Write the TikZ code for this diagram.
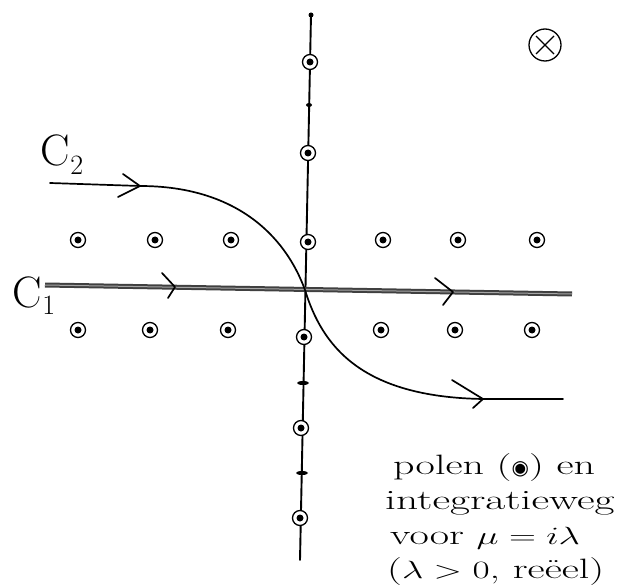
\documentclass[tikz,border=0pt]{standalone}
\usepackage{fontspec}
\newfontfamily\symfont{DejaVu Sans}
\usepackage{graphicx}
\usetikzlibrary{shapes.geometric,calc}
\begin{document}
\begin{tikzpicture}[x=1pt,y=-1pt,
  pen/.style={line width=1.7pt,line cap=round,line join=round},
  pole/.style={circle,draw,line width=1.3pt,minimum size=15pt,inner sep=0pt,
    path picture={\fill[black] (path picture bounding box.center) circle (3.5pt);}},
  tick/.style={ellipse,fill,minimum width=12pt,minimum height=4pt,inner sep=0pt},
  lbl/.style={inner sep=0pt,anchor=west,font=\fontsize{28}{28}\selectfont},
  clab/.style={inner sep=0pt,font=\fontsize{44}{44}\selectfont}]
\useasboundingbox (0,0) rectangle (632,588);
% axis
\coordinate (top) at (311,15);
\coordinate (bot) at (300,560);
\draw[pen,line width=1.9pt] (top) -- (bot);
\fill (top) circle (2.5pt);
\node[tick,minimum width=6pt] (t1) at (309,105) {};
\node[tick] (t2) at (303,383) {};
\node[tick] (t3) at (302,473) {};
% poles on axis
\foreach \n/\x/\y in {a1/310/62,a2/308/153,a3/308/242,a4/304/337,a5/301/428,a6/300/518}
  \node[pole,fill=white] (\n) at (\x,\y) {};
% upper row
\foreach \n/\x in {u1/78,u2/155,u3/231,u5/383,u6/458,u7/537}
  \node[pole] (\n) at (\x,240) {};
% lower row
\foreach \n/\x in {l1/78,l2/150,l3/228,l5/381,l6/455,l7/532}
  \node[pole] (\n) at (\x,330) {};
% C1
\coordinate (c1a) at (45,285);
\coordinate (c1b) at (572,294);
\draw[line width=5pt,black!75] (c1a) -- (c1b);
\draw[line width=1pt,black!35] (c1a) -- (c1b);
\coordinate (c1m1) at (175,287);
\coordinate (c1m2) at (453,292);
\draw[pen] ($(c1m1)+(-13,-14)$) -- (c1m1) -- ($(c1m1)+(-7,11)$);
\draw[pen] ($(c1m2)+(-18,-14)$) -- (c1m2) -- ($(c1m2)+(-10,13)$);
% C2
\coordinate (c2a) at (50,183);
\coordinate (c2m1) at (140,186);
\coordinate (o) at (305,290);
\coordinate (c2m2) at (483,399);
\coordinate (c2b) at (563,399);
\draw[pen] (c2a) -- (c2m1) .. controls (235,186) and (285,235) .. (o)
  .. controls (322,345) and (360,397) .. (c2m2) -- (c2b);
\draw[pen] ($(c2m1)+(-17,-12)$) -- (c2m1) -- ($(c2m1)+(-22,11)$);
\draw[pen] ($(c2m2)+(-31,-19)$) -- (c2m2) -- ($(c2m2)+(-10,9)$);
% labels
\node[clab] (lc2) at (62,155) {C\raisebox{-9pt}{\fontsize{28}{28}\selectfont 2}};
\node[clab] (lc1) at (34,296) {C\raisebox{-7pt}{\fontsize{28}{28}\selectfont 1}};
% otimes
\node[circle,draw,line width=1.3pt,minimum size=32pt,inner sep=0pt] (ot) at (545,45) {};
\draw[line width=1.3pt] ($(ot)+(-9,-9)$) -- ($(ot)+(9,9)$) ($(ot)+(9,-9)$) -- ($(ot)+(-9,9)$);
% text
\node[lbl] (tx1) at (393,468) {\scalebox{1.5}[1]{polen (}{\symfont\fontsize{20}{20}\selectfont ◉}\scalebox{1.5}[1]{) en}};
\node[lbl] (tx2) at (385,503) {\scalebox{1.55}[1]{integratieweg}};
\node[lbl] (tx3) at (390,538) {\scalebox{1.5}[1]{voor $\mu = i\lambda$}};
\node[lbl] (tx4) at (387,572) {\scalebox{1.5}[1]{($\lambda > 0$, reëel)}};
\end{tikzpicture}
\end{document}
